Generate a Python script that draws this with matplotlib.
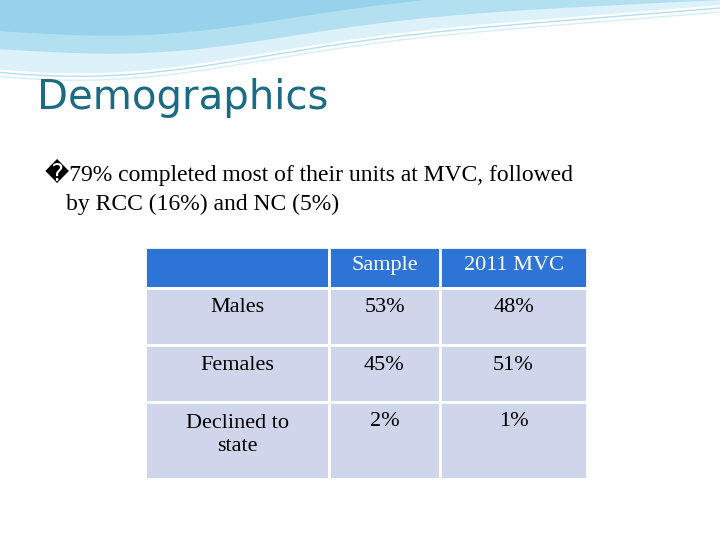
import numpy as np
import matplotlib.pyplot as plt
from matplotlib.patches import Rectangle

title = "Demographics"
bullet_lines = ["\ufffd79% completed most of their units at MVC, followed",
                "by RCC (16%) and NC (5%)"]
col_headers = ["", "Sample", "2011 MVC"]
row_labels = ["Males", "Females", "Declined to\nstate"]
sample = ["53%", "45%", "2%"]
mvc2011 = ["48%", "51%", "1%"]

col_x = [145, 329, 440, 587]
row_y = [247, 288, 345, 402, 479]

fig = plt.figure(figsize=(7.2, 5.4), dpi=100)
ax = fig.add_axes([0, 0, 1, 1])
ax.set_xlim(0, 720)
ax.set_ylim(540, 0)
ax.axis("off")

# top wave decoration
x = np.linspace(0, 720, 300)
top_edge = 45 + 30 * np.exp(-((x - 100) / 220) ** 2) - 40 * (x / 720) ** 1.5
ax.fill_between(x, 0, top_edge, color="#dcf1f9", lw=0)
band = 35 + 25 * np.exp(-((x - 150) / 200) ** 2) - 35 * (x / 720)
ax.fill_between(x, 0, band, color="#b3e0f0", lw=0)
ax.fill_between(x, 0, band - 18, color="#8fd0ea", lw=0, alpha=0.8)
ax.plot(x, top_edge + 3, color="#b5dff0", lw=1)
ax.plot(x, top_edge + 7, color="#d8eef7", lw=1)

ax.text(37, 98, title, fontsize=29, color="#1c6b84", va="center",
        family="DejaVu Sans")
ax.text(45, 172, bullet_lines[0], fontsize=17, va="center",
        family=["Liberation Serif", "DejaVu Sans"])
ax.text(66, 204, bullet_lines[1], fontsize=17, va="center", family="Liberation Serif")

for r in range(4):
    for c in range(3):
        x0, x1 = col_x[c], col_x[c + 1]
        y0, y1 = row_y[r], row_y[r + 1]
        fc = "#2e73d6" if r == 0 else "#cfd5ea"
        ax.add_patch(Rectangle((x0, y0), x1 - x0, y1 - y0, fc=fc,
                               ec="white", lw=2))
        if r == 0:
            txt, col = col_headers[c], "white"
            ty = (y0 + y1) / 2 - 2
        else:
            txt = [row_labels, sample, mvc2011][c][r - 1]
            col = "black"
            ty = y0 + 20 if "\n" not in txt else y0 + 33
        ax.text((x0 + x1) / 2, ty, txt, ha="center", va="center",
                fontsize=16, color=col, family="Liberation Serif",
                linespacing=1.3)

fig.savefig("out.png", dpi=100)
